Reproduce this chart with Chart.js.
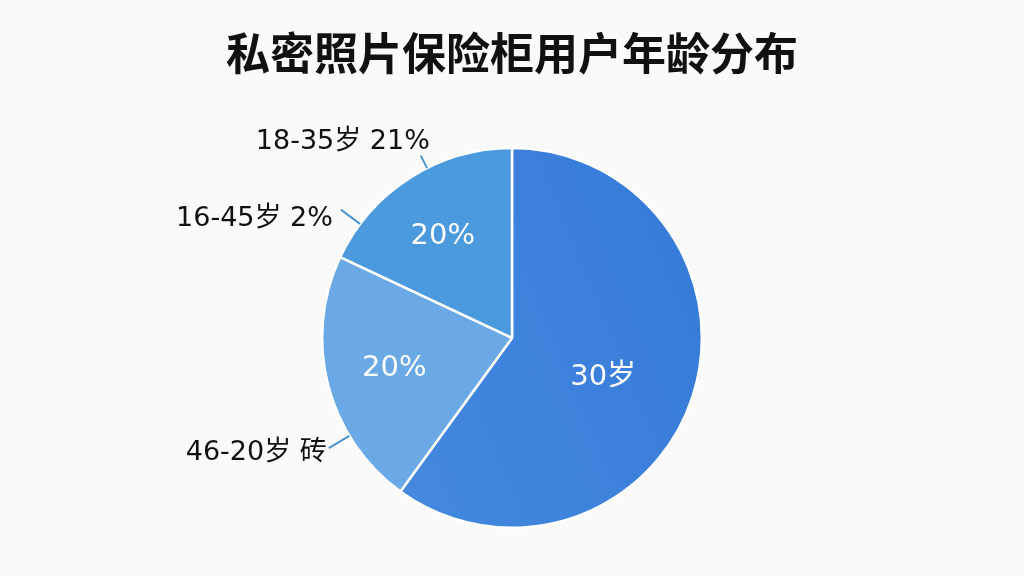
<!DOCTYPE html>
<html>
<head>
<meta charset="utf-8">
<script src="https://cdn.jsdelivr.net/npm/chart.js@4/dist/chart.umd.min.js"></script>
<style>
  html, body { margin: 0; padding: 0; background: #fafafa; }
  #wrap { width: 1024px; height: 576px; }
</style>
</head>
<body>
<div id="wrap"><canvas id="pieChart" width="1024" height="576"></canvas></div>
<script>
// ---- data ----
const titleText = '私密照片保险柜用户年龄分布';
const categories = ['30岁', '46-20岁', '18-35岁'];
const values = [60, 22, 18];
const innerLabels = ['30岁', '20%', '20%'];
const calloutLabels = ['18-35岁 21%', '16-45岁 2%', '46-20岁 砖'];
const calloutSlice = [2, 2, 1];

const sliceColors = ['#3a7fdb', '#6ba9e6', '#4b9ade'];

// inner + outer labels drawn on top of the arcs
const sliceLabels = {
  id: 'sliceLabels',
  afterDatasetsDraw(chart) {
    const ctx = chart.ctx;
    const arcs = chart.getDatasetMeta(0).data;
    const radial = [0.523, 0.64, 0.647];
    const along = [0.525, 0.5, 0.47];

    ctx.save();
    ctx.fillStyle = '#ffffff';
    ctx.font = '29px "DejaVu Sans", "Noto Sans CJK SC", sans-serif';
    ctx.textAlign = 'center';
    ctx.textBaseline = 'middle';
    arcs.forEach((arc, i) => {
      const a = arc.startAngle + (arc.endAngle - arc.startAngle) * along[i];
      const r = arc.outerRadius * radial[i];
      ctx.fillText(innerLabels[i], arc.x + Math.cos(a) * r, arc.y + Math.sin(a) * r);
    });

    // callouts: where on the slice the leader starts, its length, text offset from leader end
    const frac = [0.59, 0.18, 0.29];
    const lead = [14, 24, 24];
    const txtOff = [[9, -14], [-8, 9], [-2, 5]];
    ctx.strokeStyle = '#4a93cf';
    ctx.lineWidth = 2;
    ctx.fillStyle = '#111111';
    ctx.font = '27px "DejaVu Sans", "Noto Sans CJK SC", sans-serif';
    ctx.textAlign = 'right';
    calloutLabels.forEach((txt, k) => {
      const arc = arcs[calloutSlice[k]];
      const a = arc.startAngle + (arc.endAngle - arc.startAngle) * frac[k];
      const r = arc.outerRadius;
      const x0 = arc.x + Math.cos(a) * r, y0 = arc.y + Math.sin(a) * r;
      const x1 = arc.x + Math.cos(a) * (r + lead[k]), y1 = arc.y + Math.sin(a) * (r + lead[k]);
      ctx.beginPath();
      ctx.moveTo(x0, y0);
      ctx.lineTo(x1, y1);
      ctx.stroke();
      ctx.fillText(txt, x1 + txtOff[k][0], y1 + txtOff[k][1]);
    });
    ctx.restore();
  }
};

function bigSliceFill(context) {
  const chart = context.chart;
  const area = chart.chartArea;
  if (!area) return sliceColors[0];
  if (context.dataIndex !== 0) return sliceColors[context.dataIndex];
  const g = chart.ctx.createLinearGradient(area.right, area.top, area.left + 100, area.bottom);
  g.addColorStop(0, '#2a6dd4');
  g.addColorStop(1, '#4f95e3');
  return g;
}

new Chart(document.getElementById('pieChart').getContext('2d'), {
  type: 'pie',
  data: {
    labels: categories,
    datasets: [{
      data: values,
      backgroundColor: bigSliceFill,
      borderColor: '#ffffff',
      borderWidth: 2.5
    }]
  },
  options: {
    responsive: false,
    animation: false,
    layout: { padding: { top: 0, bottom: 47, left: 0, right: 0 } },
    plugins: {
      legend: { display: false },
      tooltip: { enabled: false },
      title: {
        display: true,
        text: titleText,
        color: '#111111',
        font: { size: 44, weight: 'bold', family: '"Noto Sans CJK SC", sans-serif' },
        padding: { top: 27, bottom: 67 }
      }
    }
  },
  plugins: [sliceLabels]
});
</script>
</body>
</html>
